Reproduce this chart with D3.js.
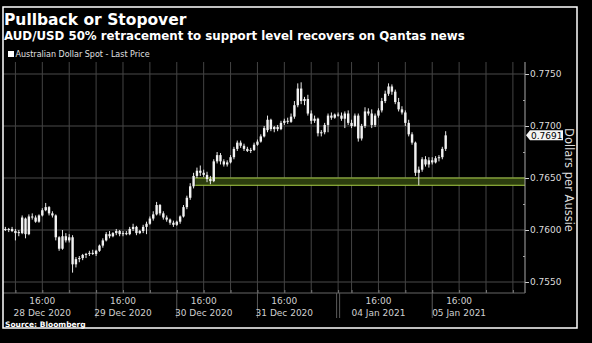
<!DOCTYPE html>
<html><head><meta charset="utf-8">
<script src="https://cdn.jsdelivr.net/npm/d3@7"></script>
<style>body{margin:0;background:#000;} svg{display:block}</style>
</head><body>
<svg id="c" width="592" height="343"></svg>
<script>
// ---- data (hourly candles; hour 0 = day boundary 29 Dec) ----
const hours = d3.range(-27, 105);
const open = [
.7601,.7600,.7601,.7599,.7597,.7597,.7611,.7596,.7613,.7612,
.7608,.7614,.7619,.7622,.7616,.7614,.7593,.7582,.7594,.7590,
.7593,.7567,.7572,.7573,.7576,.7577,.7578,.7577,.7580,.7585,
.7590,.7596,.7594,.7597,.7599,.7596,.7597,.7596,.7601,.7603,
.7597,.7599,.7603,.7606,.7611,.7615,.7624,.7616,.7612,.7610,
.7607,.7605,.7608,.7613,.7622,.7631,.7642,.7652,.7657,.7655,
.7653,.7649,.7647,.7666,.7672,.7666,.7663,.7665,.7670,.7678,
.7684,.7681,.7678,.7676,.7677,.7682,.7685,.7690,.7696,.7706,
.7697,.7699,.7697,.7703,.7705,.7704,.7709,.7720,.7736,.7724,
.7726,.7712,.7705,.7707,.7693,.7694,.7701,.7710,.7708,.7711,
.7710,.7707,.7712,.7703,.7700,.7710,.7688,.7700,.7714,.7712,
.7701,.7710,.7715,.7724,.7731,.7738,.7733,.7723,.7716,.7713,
.7703,.7692,.7684,.7655,.7658,.7668,.7663,.7667,.7665,.7669,
.7670,.7678];
const high = [
.7603,.7602,.7603,.7601,.7600,.7614,.7612,.7615,.7616,.7614,
.7615,.7621,.7626,.7623,.7618,.7615,.7594,.7600,.7597,.7596,
.7595,.7574,.7575,.7577,.7578,.7580,.7581,.7581,.7586,.7592,
.7598,.7599,.7598,.7601,.7600,.7599,.7599,.7603,.7606,.7604,
.7600,.7605,.7608,.7613,.7618,.7627,.7625,.7618,.7614,.7611,
.7609,.7609,.7614,.7624,.7633,.7645,.7655,.7660,.7662,.7658,
.7656,.7652,.7668,.7675,.7674,.7668,.7667,.7672,.7680,.7686,
.7686,.7683,.7680,.7679,.7684,.7687,.7692,.7700,.7710,.7707,
.7700,.7701,.7705,.7707,.7708,.7712,.7724,.7741,.7742,.7728,
.7730,.7715,.7710,.7708,.7696,.7703,.7712,.7713,.7712,.7713,
.7713,.7714,.7715,.7706,.7712,.7712,.7702,.7718,.7717,.7716,
.7712,.7717,.7727,.7734,.7741,.7740,.7735,.7727,.7719,.7715,
.7706,.7694,.7685,.7661,.7670,.7671,.7670,.7670,.7671,.7672,
.7680,.7695];
const low = [
.7599,.7598,.7598,.7590,.7594,.7596,.7592,.7595,.7610,.7607,
.7607,.7613,.7618,.7614,.7612,.7590,.7580,.7581,.7588,.7588,
.7559,.7564,.7569,.7571,.7573,.7575,.7576,.7575,.7579,.7583,
.7589,.7592,.7593,.7595,.7594,.7594,.7595,.7595,.7599,.7595,
.7596,.7597,.7596,.7605,.7609,.7614,.7614,.7610,.7608,.7605,
.7603,.7604,.7606,.7612,.7620,.7629,.7640,.7650,.7652,.7651,
.7646,.7644,.7646,.7664,.7663,.7661,.7661,.7664,.7668,.7676,
.7679,.7676,.7675,.7674,.7676,.7681,.7684,.7689,.7694,.7695,
.7694,.7695,.7696,.7701,.7702,.7703,.7707,.7718,.7721,.7720,
.7710,.7702,.7703,.7690,.7690,.7692,.7694,.7706,.7707,.7709,
.7705,.7698,.7701,.7698,.7699,.7685,.7686,.7698,.7710,.7698,
.7699,.7708,.7713,.7722,.7729,.7730,.7721,.7714,.7711,.7700,
.7690,.7682,.7652,.7643,.7656,.7661,.7660,.7663,.7664,.7666,
.7668,.7676];
const close = [
.7600,.7601,.7599,.7597,.7598,.7612,.7596,.7613,.7612,.7608,
.7614,.7619,.7622,.7616,.7614,.7593,.7582,.7594,.7590,.7593,
.7567,.7572,.7573,.7576,.7577,.7578,.7577,.7580,.7585,.7590,
.7596,.7594,.7597,.7599,.7596,.7597,.7596,.7601,.7603,.7597,
.7599,.7603,.7606,.7611,.7615,.7624,.7616,.7612,.7610,.7607,
.7605,.7608,.7613,.7622,.7631,.7642,.7652,.7657,.7655,.7653,
.7649,.7647,.7666,.7672,.7666,.7663,.7665,.7670,.7678,.7684,
.7681,.7678,.7676,.7677,.7682,.7685,.7690,.7698,.7706,.7697,
.7699,.7697,.7703,.7705,.7704,.7709,.7720,.7736,.7724,.7726,
.7712,.7705,.7707,.7693,.7694,.7701,.7710,.7708,.7711,.7710,
.7707,.7712,.7703,.7700,.7710,.7688,.7700,.7714,.7712,.7701,
.7710,.7715,.7724,.7731,.7738,.7733,.7723,.7716,.7713,.7703,
.7692,.7684,.7655,.7658,.7668,.7663,.7667,.7665,.7669,.7670,
.7678,.7691];

const yTicks = [0.7550, 0.7600, 0.7650, 0.7700, 0.7750];
const yMinorTicks = [0.7575, 0.7625, 0.7675, 0.7725];
const labelHours = [-16, 8, 32, 56, 84, 108];
const labelTimes = ["16:00", "16:00", "16:00", "16:00", "16:00", "16:00"];
const labelDates = ["28 Dec 2020", "29 Dec 2020", "30 Dec 2020", "31 Dec 2020", "04 Jan 2021", "05 Jan 2021"];
const gridHours = [-24,-16,-8,0,8,16,24,32,40,48,56,64,72,76,84,92,100,108,116,124];
const dayBreaks = [0, 24, 48, 100];
const weekendBreak = 72;
const supportBand = [0.7643, 0.7650];
const supportStartHour = 29.5;
const lastPrice = 0.7691;

const title = "Pullback or Stopover";
const subtitle = "AUD/USD 50% retracement to support level recovers on Qantas news";
const legendLabel = "Australian Dollar Spot - Last Price";
const yTitle = "Dollars per Aussie";
const source = "Source: Bloomberg";

// ---- drawing ----
const svg = d3.select("#c");
const FONT = "DejaVu Sans, Verdana, sans-serif";
svg.append("rect").attr("width", 592).attr("height", 343).attr("fill", "#000");

const plotL = 3, plotR = 525, plotT = 62, plotB = 293;
const x = d3.scaleLinear().domain([-27.7, 127.6]).range([plotL, plotR]);
const y = d3.scaleLinear().domain([0.7550, 0.7750]).range([282, 74]);

// horizontal grid
svg.append("g").selectAll("line").data(yTicks).join("line")
  .attr("x1", plotL).attr("x2", plotR)
  .attr("y1", d => y(d)).attr("y2", d => y(d))
  .attr("stroke", "#4a4a4a").attr("stroke-width", 1);

// vertical grid
svg.append("g").selectAll("line").data(gridHours).join("line")
  .attr("x1", d => x(d)).attr("x2", d => x(d))
  .attr("y1", plotT).attr("y2", plotB)
  .attr("stroke", "#444").attr("stroke-width", 1);

// support band
const band = svg.append("g");
band.append("rect")
  .attr("x", x(supportStartHour)).attr("width", plotR - x(supportStartHour))
  .attr("y", y(supportBand[1])).attr("height", y(supportBand[0]) - y(supportBand[1]))
  .attr("fill", "#2c3d0e");
band.selectAll("line").data(supportBand).join("line")
  .attr("x1", x(supportStartHour)).attr("x2", plotR)
  .attr("y1", d => y(d)).attr("y2", d => y(d))
  .attr("stroke", "#a9cf45").attr("stroke-width", 1);

// candles
const candles = hours.map((h, i) => ({h, o: open[i], hi: high[i], lo: low[i], c: close[i]}));
const cg = svg.append("g");
const bw = 2.4;
cg.selectAll("line").data(candles).join("line")
  .attr("x1", d => x(d.h)).attr("x2", d => x(d.h))
  .attr("y1", d => y(d.hi)).attr("y2", d => y(d.lo))
  .attr("stroke", "#e8e8e8").attr("stroke-width", 1);
cg.selectAll("rect").data(candles).join("rect")
  .attr("x", d => x(d.h) - bw / 2).attr("width", bw)
  .attr("y", d => y(Math.max(d.o, d.c)))
  .attr("height", d => Math.max(1, Math.abs(y(d.o) - y(d.c))))
  .attr("fill", "#f2f2f2");

// right axis
const ax = svg.append("g").attr("transform", `translate(${plotR},0)`)
  .call(d3.axisRight(y).tickValues(yTicks).tickFormat(d3.format(".4f")).tickSize(4).tickPadding(1));
ax.select(".domain").remove();
ax.selectAll("line").attr("stroke", "#cfcfcf");
ax.selectAll("text").attr("fill", "#dcdcdc").style("font-family", FONT).style("font-size", "9px");
const axm = svg.append("g").attr("transform", `translate(${plotR},0)`)
  .call(d3.axisLeft(y).tickValues(yMinorTicks).tickFormat("").tickSize(2));
axm.select(".domain").remove();
axm.selectAll("line").attr("stroke", "#a0a0a0");
svg.append("line").attr("x1", plotR).attr("x2", plotR).attr("y1", plotT).attr("y2", plotB)
  .attr("stroke", "#a8a8a8").attr("stroke-width", 1);

// bottom axis
const bx = svg.append("g").attr("transform", `translate(0,${plotB})`)
  .call(d3.axisBottom(x).tickValues(gridHours).tickFormat("").tickSize(-3));
bx.select(".domain").remove();
bx.selectAll("line").attr("stroke", "#777");
svg.append("line").attr("x1", plotL).attr("x2", plotR).attr("y1", plotB).attr("y2", plotB)
  .attr("stroke", "#666").attr("stroke-width", 1);

// day separators in label row
svg.append("g").selectAll("line").data(dayBreaks).join("line")
  .attr("x1", d => x(d)).attr("x2", d => x(d)).attr("y1", plotB).attr("y2", 318)
  .attr("stroke", "#5a5a5a");
svg.append("g").selectAll("line").data([-1.5, 1.5]).join("line")
  .attr("x1", d => x(weekendBreak) + d).attr("x2", d => x(weekendBreak) + d)
  .attr("y1", plotB).attr("y2", 318).attr("stroke", "#5a5a5a");

// x labels
const xl = svg.append("g").style("font-family", FONT).style("font-size", "9px").attr("fill", "#d0d0d0")
  .attr("text-anchor", "middle");
xl.selectAll("text.t").data(labelHours).join("text").attr("class", "t")
  .attr("x", d => x(d)).attr("y", 304).text((d, i) => labelTimes[i]);
xl.selectAll("text.d").data(labelHours).join("text").attr("class", "d")
  .attr("x", d => x(d)).attr("y", 316).text((d, i) => labelDates[i]);

// last price badge
const ly = y(lastPrice);
svg.append("path")
  .attr("d", `M${plotR + 1},${ly} L${plotR + 5},${ly - 5} L${plotR + 38},${ly - 5} L${plotR + 38},${ly + 5} L${plotR + 5},${ly + 5} Z`)
  .attr("fill", "#f4f4f4");
svg.append("text").attr("x", plotR + 6).attr("y", ly + 3.3)
  .style("font-family", FONT).style("font-size", "9px").attr("fill", "#000")
  .text(d3.format(".4f")(lastPrice));

// y title
svg.append("text").attr("transform", "translate(565,180) rotate(90)")
  .attr("text-anchor", "middle").style("font-family", FONT).style("font-size", "11.5px")
  .attr("fill", "#dcdcdc").text(yTitle);

// titles
svg.append("text").attr("x", 4).attr("y", 25).style("font-family", FONT).style("font-weight", "bold")
  .style("font-size", "15.5px").attr("fill", "#fff").text(title);
svg.append("text").attr("x", 4).attr("y", 39.5).style("font-family", FONT).style("font-weight", "bold")
  .style("font-size", "11.8px").attr("fill", "#fff").text(subtitle);

// legend
svg.append("rect").attr("x", 8).attr("y", 51).attr("width", 6).attr("height", 6).attr("fill", "#fff");
svg.append("text").attr("x", 15.5).attr("y", 57.3).style("font-family", FONT).style("font-size", "8px")
  .attr("fill", "#e0e0e0").text(legendLabel);

// source
svg.append("text").attr("x", 5).attr("y", 327).style("font-family", FONT).style("font-weight", "bold")
  .style("font-size", "7.5px").attr("fill", "#fff").text(source);

// frame
svg.append("rect").attr("x", 3).attr("y", 7).attr("width", 574).attr("height", 321)
  .attr("fill", "none").attr("stroke", "#fff").attr("stroke-width", 1.5);
</script>
</body></html>
